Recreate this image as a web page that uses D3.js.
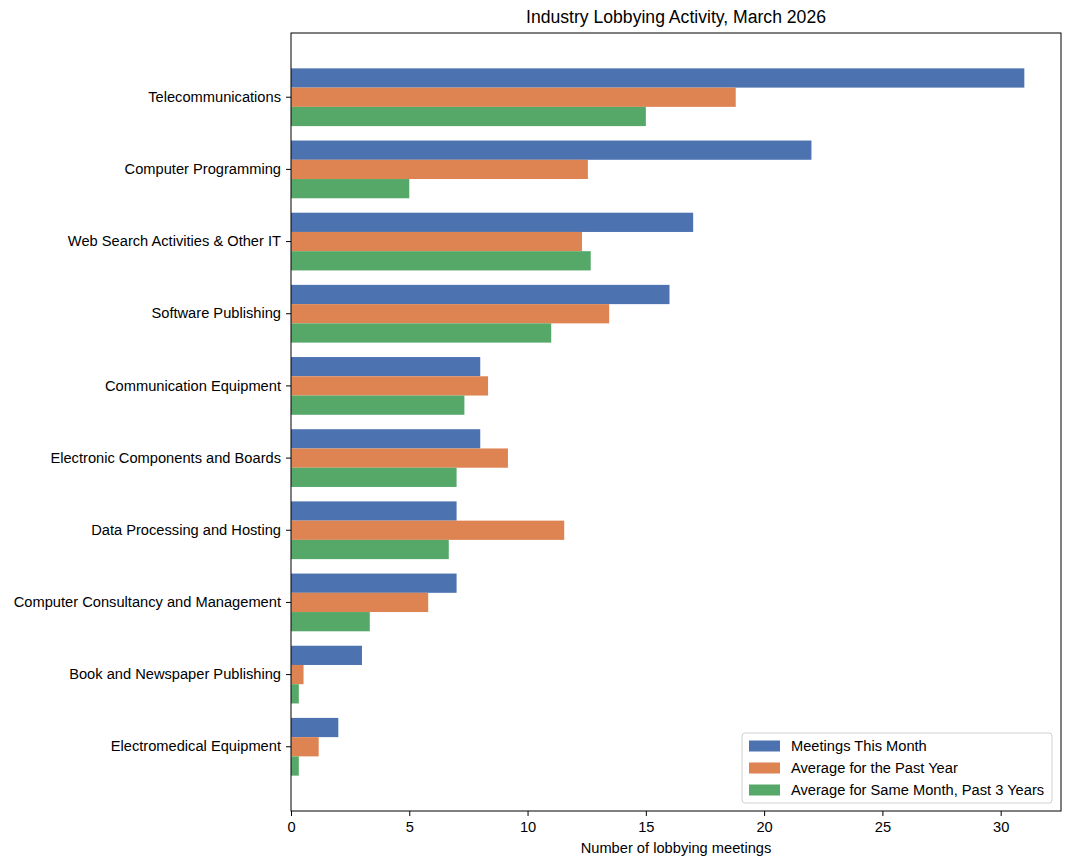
<!DOCTYPE html>
<html>
<head>
<meta charset="utf-8">
<script src="https://cdn.jsdelivr.net/npm/d3@7"></script>
<style>
  body { margin: 0; background: #fff; }
  svg { font-family: Arial, "Liberation Sans", sans-serif; }
</style>
</head>
<body>
<div id="chart"></div>
<script>
// data
const categories = [
    "Telecommunications",
    "Computer Programming",
    "Web Search Activities & Other IT",
    "Software Publishing",
    "Communication Equipment",
    "Electronic Components and Boards",
    "Data Processing and Hosting",
    "Computer Consultancy and Management",
    "Book and Newspaper Publishing",
    "Electromedical Equipment"
];
const seriesNames = [
    "Meetings This Month",
    "Average for the Past Year",
    "Average for Same Month, Past 3 Years"
];
const meetingsThisMonth = [31, 22, 17, 16, 8, 8, 7, 7, 3, 2];
const avgPastYear = [18.8, 12.55, 12.3, 13.45, 8.33, 9.17, 11.55, 5.8, 0.53, 1.17];
const avgSameMonth3y = [15.0, 5.0, 12.67, 11.0, 7.33, 7.0, 6.67, 3.33, 0.33, 0.33];
const xTicks = [0, 5, 10, 15, 20, 25, 30];
const colors = ["#4c72b0", "#dd8452", "#55a868"];

const seriesValues = [meetingsThisMonth, avgPastYear, avgSameMonth3y];

const width = 1070, height = 868;
const marginLeft = 291, marginRight = 9, marginTop = 33, marginBottom = 57;
const fontSize = 14.67;
const fontFamily = "Arial, 'Liberation Sans', sans-serif";

const svg = d3.select("#chart").append("svg")
    .attr("width", width)
    .attr("height", height)
    .attr("viewBox", [0, 0, width, height]);

const x = d3.scaleLinear()
    .domain([0, d3.max(meetingsThisMonth) * 1.05])
    .range([marginLeft, width - marginRight]);

const y = d3.scaleBand()
    .domain(categories)
    .range([marginTop, height - marginBottom])
    .paddingInner(0)
    .paddingOuter(0.39);

// bars take 80% of each category slot
const ySub = d3.scaleBand()
    .domain(seriesNames)
    .range([y.bandwidth() * 0.1, y.bandwidth() * 0.9]);

const rows = categories.map((c, i) => ({
    category: c,
    values: seriesNames.map((s, j) => ({ series: s, value: seriesValues[j][i], color: colors[j] }))
}));

svg.append("g")
    .selectAll("g")
    .data(rows)
    .join("g")
    .attr("transform", d => `translate(0,${y(d.category)})`)
    .selectAll("rect")
    .data(d => d.values)
    .join("rect")
    .attr("x", x(0))
    .attr("y", d => ySub(d.series))
    .attr("width", d => x(d.value) - x(0))
    .attr("height", ySub.bandwidth())
    .attr("fill", d => d.color);

// frame
svg.append("rect")
    .attr("x", marginLeft)
    .attr("y", marginTop)
    .attr("width", width - marginRight - marginLeft)
    .attr("height", height - marginBottom - marginTop)
    .attr("fill", "none")
    .attr("stroke", "#000")
    .attr("stroke-width", 1);

// x axis
const xAxis = svg.append("g")
    .attr("transform", `translate(0,${height - marginBottom})`)
    .call(d3.axisBottom(x).tickValues(xTicks).tickSize(5).tickPadding(6).tickFormat(d3.format("d")));
xAxis.select(".domain").remove();
xAxis.selectAll("text").attr("font-size", fontSize).attr("fill", "#000").attr("font-family", fontFamily);

// y axis
const yAxis = svg.append("g")
    .attr("transform", `translate(${marginLeft},0)`)
    .call(d3.axisLeft(y).tickSize(5).tickPadding(5));
yAxis.select(".domain").remove();
yAxis.selectAll("text").attr("font-size", fontSize).attr("fill", "#000").attr("font-family", fontFamily);

// labels
svg.append("text")
    .attr("x", (marginLeft + width - marginRight) / 2)
    .attr("y", 23)
    .attr("text-anchor", "middle")
    .attr("font-size", 17.6)
    .text("Industry Lobbying Activity, March 2026");

svg.append("text")
    .attr("x", (marginLeft + width - marginRight) / 2)
    .attr("y", 853)
    .attr("text-anchor", "middle")
    .attr("font-size", fontSize)
    .text("Number of lobbying meetings");

// legend
const legend = svg.append("g").attr("transform", "translate(742,733)");
legend.append("rect")
    .attr("width", 310)
    .attr("height", 70)
    .attr("rx", 3)
    .attr("fill", "#fff")
    .attr("fill-opacity", 0.8)
    .attr("stroke", "#d0d0d0");

const item = legend.selectAll("g.item")
    .data(seriesNames)
    .join("g")
    .attr("class", "item")
    .attr("transform", (d, i) => `translate(7,${13 + i * 22})`);
item.append("rect")
    .attr("y", -5.5)
    .attr("width", 31)
    .attr("height", 11)
    .attr("fill", (d, i) => colors[i]);
item.append("text")
    .attr("x", 42)
    .attr("dy", "0.35em")
    .attr("font-size", fontSize)
    .text(d => d);
</script>
</body>
</html>
